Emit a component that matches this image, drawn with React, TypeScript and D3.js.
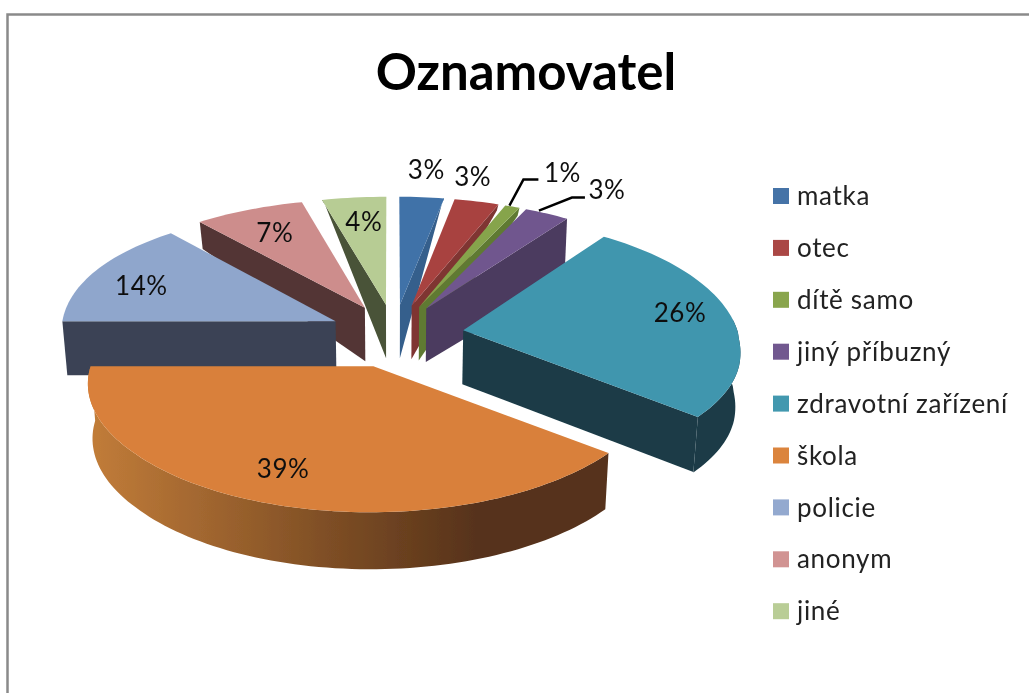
import React from 'react';
import * as d3 from 'd3';

const categories = ['matka','otec','dítě samo','jiný příbuzný','zdravotní zařízení','škola','policie','anonym','jiné'];
const values = [3,3,1,3,26,39,14,7,4];
const title = 'Oznamovatel';

const topColors = ['#4072a8','#a84341','#86a44c','#70568e','#4096ae','#d9803a','#8fa6cc','#cd8d8c','#b7cc94'];
const legendColors = ['#4573a7','#aa4644','#89a54e','#71588f','#4298af','#db843d','#93a9cf','#d19392','#b9cd96'];
const wallColors = ['#365f8c','#7f3533','#5f7a33','#4b3a5e','#1a3b47','#56321a','#3a4355','#523636','#4a5338'];
const wallEdge = ['end','end','end','end','end','none','start','start','start'];
const cornerDepth = [0,6,8,60,55,0,54,27,0];
const arcWallFrom = [null,null,null,null,85,129.6,null,null,null];
const drawOrder = [8,0,1,2,7,3,6,4,5];
const sliceShiftX = [0,0,0,0,5,2,0,0,0];
// label placement: distance along the mid-angle, then nudge
const labelPlace = [[370,-2,5],[275,-4,-25],[275,50,-34],[275,60,-24],[228,-5,-4],[218,-4,-1],[230,7,7],[218,3,4],[215,3,3]];
const leaders: (number[][]|null)[] = [null,null,[[-3,-1],[11,-27],[26,-27]],[[-8,-3],[25,-16],[38,-16]],null,null,null,null,null];

const W = 1029, H = 693;
const cx = 394, cy = 334, R = 275, explode = 65, tilt = 0.45, backTilt = 1.035, persp = 0.00045, wallH = 54, wallShrink = 0.985;
const backLeftStretch = 0.00021, frontSag = 4;

const rad = (deg: number) => deg * Math.PI / 180;
const project = (u: number, v: number): [number, number] => {
  const s = 1 / (1 - persp * v);
  const stretch = u < 0 && v < 0 ? backLeftStretch * u * v : 0;
  const sag = v > 0 ? frontSag * Math.max(0, 1 - Math.abs(v - 60) / 176) : 0;
  return [cx + u * s - stretch, cy + tilt * v * s * (v < 0 ? backTilt : 1) + sag];
};
const world = (ax: number, ay: number, theta: number, r: number): [number, number] =>
  [ax + r * Math.sin(theta), ay - r * Math.cos(theta)];
const lower = (u: number, v: number, depth?: number): [number, number] => {
  const [x, y] = project(u, v);
  const h = depth ?? wallH + 3 * v / 336;
  return [cx + (x - cx) * wallShrink, y + h];
};

const pie = d3.pie<number>().sort(null).value(d => d);
const arcs = pie(values);
const line = d3.line<[number, number]>().curve(d3.curveLinearClosed);
const sweep = (a0: number, a1: number) => {
  const n = Math.max(4, Math.ceil((a1 - a0) / rad(1.5)));
  return d3.range(n + 1).map(i => a0 + (a1 - a0) * i / n);
};

const slices = arcs.map((a, i) => {
  const mid = (a.startAngle + a.endAngle) / 2;
  const ax = explode * Math.sin(mid), ay = -explode * Math.cos(mid);
  const pts = sweep(a.startAngle, a.endAngle).map(t => world(ax, ay, t, R));
  const top = [project(ax, ay), ...pts.map(p => project(p[0], p[1]))] as [number, number][];
  let radial: string | null = null;
  if (wallEdge[i] !== 'none') {
    const edge = wallEdge[i] === 'end' ? a.endAngle : a.startAngle;
    const o = world(ax, ay, edge, R);
    radial = line([project(ax, ay), project(o[0], o[1]), lower(o[0], o[1], cornerDepth[i]), lower(ax, ay)]);
  }
  let arcWall: string | null = null;
  const from = arcWallFrom[i];
  if (from !== null) {
    const w = sweep(Math.max(rad(from), a.startAngle), a.endAngle).map(t => world(ax, ay, t, R));
    arcWall = line([...w.map(p => project(p[0], p[1])), ...w.slice().reverse().map(p => lower(p[0], p[1]))]);
  }
  const [lr, dx, dy] = labelPlace[i];
  const lw = world(ax, ay, mid, lr);
  const lp = project(lw[0], lw[1]);
  const label: [number, number] = [lp[0] + dx + sliceShiftX[i], lp[1] + dy];
  const lead = leaders[i] ? leaders[i]!.map(o => [lp[0] + o[0], lp[1] + o[1]] as [number, number]) : null;
  return { i, top: line(top), radial, arcWall, label, lead };
});

export default function App() {
  return (
    <svg width={W} height={H} style={{ position: 'absolute', left: 0, top: 0, display: 'block', background: '#fff' }}>
      <defs>
        <linearGradient id="orangeWall" gradientUnits="userSpaceOnUse" x1="90" x2="606" y1="0" y2="0">
          <stop offset="0" stopColor="#c17c39" />
          <stop offset="0.48" stopColor="#7b4c24" />
          <stop offset="0.75" stopColor="#56321a" />
          <stop offset="1" stopColor="#56321a" />
        </linearGradient>
        <filter id="soft" x="-5%" y="-5%" width="110%" height="110%">
          <feGaussianBlur stdDeviation="0.45" />
        </filter>
      </defs>
      <g filter="url(#soft)">
        <path d={`M1029,14.5H7.5V693`} fill="none" stroke="#8a8a8a" strokeWidth={2.5} />
        <text x={526} y={90} textAnchor="middle" fontFamily="Lato" fontWeight={700} fontSize={51} fill="#000">{title}</text>
        {drawOrder.map(idx => {
          const s = slices[idx];
          return (
            <g key={idx} transform={`translate(${sliceShiftX[idx]},0)`}>
              {s.radial && <path d={s.radial} fill={wallColors[idx]} />}
              {s.arcWall && <path d={s.arcWall} fill={idx === 5 ? 'url(#orangeWall)' : wallColors[idx]} />}
              <path d={s.top!} fill={topColors[idx]} />
            </g>
          );
        })}
        {slices.map(s => s.lead && (
          <polyline key={s.i} points={s.lead.map(p => p.join(',')).join(' ')} fill="none" stroke="#000" strokeWidth={2.4} />
        ))}
        {slices.map(s => (
          <text key={s.i} x={s.label[0]} y={s.label[1]} dy="0.35em" textAnchor="middle" fontFamily="Lato" fontSize={26} letterSpacing={0.5} fill="#111">
            {values[s.i]}%
          </text>
        ))}
        {categories.map((c, i) => {
          const y = 196 + i * 51.9;
          return (
            <g key={c}>
              <rect x={773} y={y - 8} width={16} height={16} fill={legendColors[i]} />
              <text x={797} y={y} dy="0.35em" fontFamily="Lato" fontSize={26} letterSpacing={0.68} fill="#222">{c}</text>
            </g>
          );
        })}
      </g>
    </svg>
  );
}
